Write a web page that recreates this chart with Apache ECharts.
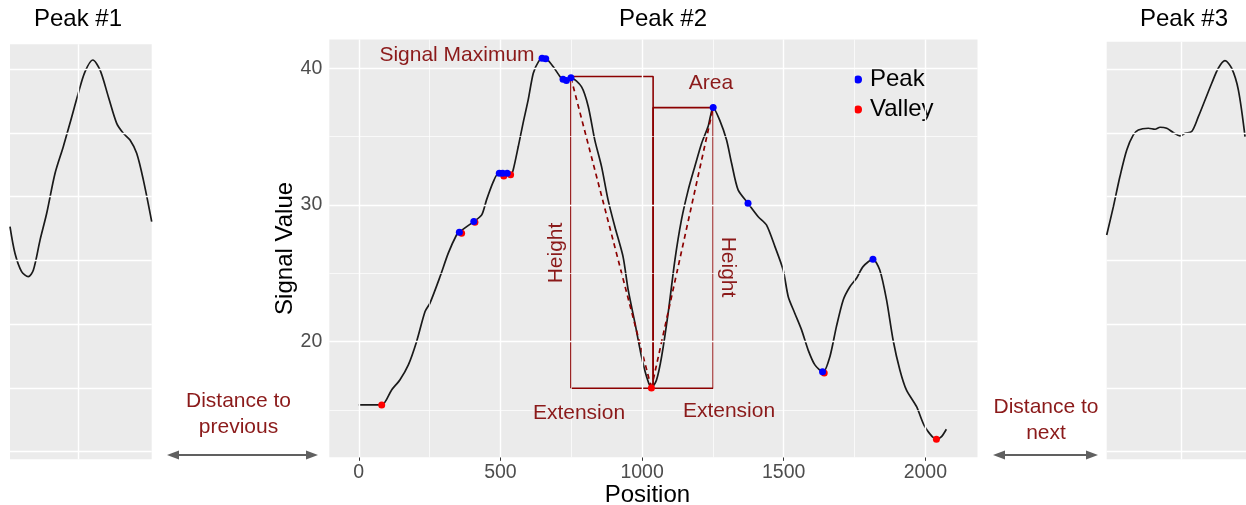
<!DOCTYPE html>
<html><head><meta charset="utf-8">
<script src="https://cdn.jsdelivr.net/npm/echarts@6/dist/echarts.min.js"></script>
<style>html,body{margin:0;padding:0;background:#fff}#c{width:1246px;height:505px}</style>
</head><body><div id="c"></div>
<script>
// ---------- main panel (Peak #2) ----------
const positions = [0,81,116,145,175,204,234,251,287,316,345,355,381,406,434,451,475,492,509,520,536,545,563,580,598,616,635,650,663,686,710,722,732,749,786,810,833,857,880,904,933,951,975,998,1016,1033,1051,1069,1092,1116,1139,1163,1186,1210,1233,1251,1274,1298,1316,1339,1374,1410,1439,1469,1498,1516,1539,1563,1586,1610,1639,1663,1686,1710,1733,1757,1780,1815,1839,1863,1886,1910,1933,1969,1998,2039,2057,2074];
const signal = [15.37,15.37,16.47,17.2,18.3,20.0,22.2,22.8,24.76,26.47,27.8,28.0,28.41,28.78,29.27,30.37,31.7,32.3,32.2,32.3,32.2,32.56,34.27,35.98,37.68,39.63,40.5,40.72,40.68,40.12,39.4,39.15,39.12,39.3,38.65,37.2,34.76,32.8,30.37,28.4,26.2,23.78,21.35,18.9,17.44,16.6,17.2,18.9,22.08,25.98,28.9,31.1,32.8,34.5,35.73,37.12,36.2,34.76,33.05,31.1,30.12,29.14,28.54,26.95,25.24,23.29,22.08,20.86,19.4,18.3,17.76,18.9,21.1,23.05,24.0,24.64,25.49,26.03,25.24,23.05,20.12,17.93,16.47,15.24,13.78,12.86,13.05,13.59];
const peakPos = [355,406,496,508,524,647,660,721,733,749,1251,1374,1637,1815];
const peakVal = [28.0,28.78,32.32,32.32,32.32,40.73,40.7,39.2,39.1,39.3,37.12,30.12,17.8,26.03];
const valleyPos = [81,363,410,512,536,1033,1643,2039];
const valleyVal = [15.37,27.93,28.74,32.12,32.2,16.6,17.7,12.86];
const xTickValues = [0,500,1000,1500,2000];
const xMinorGrid = [250,750,1250,1750];
const yTickValues = [20,30,40];
const yMinorGrid = [15,25,35];
// Height / Extension boxes: [left, right, bottom, top]
const leftBox = [749,1039,16.59,39.39];
const rightBox = [1039,1251,16.59,37.12];
// dashed peak-valley connectors
const leftDashPos = [749,1033], leftDashVal = [39.3,16.6];
const rightDashPos = [1033,1251], rightDashVal = [16.6,37.12];

// ---------- side panels ----------
const peak1Pos = [0,3.5,8.2,12.9,16.5,21.2,25.9,31.8,37.6,42.3,48.2,52.9,58.4,63.5,69.4,75.3,80,84.7,89.4,94.1,100];
const peak1Val = [27.65,25.57,24.13,23.73,24.26,26.6,28.7,31.84,33.93,35.76,38.12,39.8,40.73,39.95,37.85,35.76,34.98,34.45,33.41,31.32,28.05];
const peak3Pos = [0,4.8,9.5,14.4,19.1,22.7,29.9,34.7,38.3,43.1,47.8,52.6,56.2,61,65.8,70.6,75.4,80.1,84.9,89.7,94.5,99.3];
const peak3Val = [27.0,29.22,31.58,33.67,34.85,35.24,35.37,35.29,35.45,35.37,35.03,34.77,34.98,35.11,36.28,37.59,38.9,40.08,40.67,40.08,38.38,34.71];
const sideYGrid = [10,15,20,25,30,35,40];
const peak1XGrid = [48.2];
const peak3XGrid = [53.3];

const FONT = '"Liberation Sans", Arial, sans-serif';
const DARKRED = '#8B1A1A';
const pairs = (xs, ys) => xs.map((x, i) => [x, ys[i]]);
const boxPath = b => [[b[0],b[2]],[b[0],b[3]],[b[1],b[3]],[b[1],b[2]],[b[0],b[2]]];

function gridLines(xMajor, xMinor, yMajor, yMinor) {
  const d = [];
  xMinor.forEach(v => d.push({xAxis: v, lineStyle: {width: 0.7}}));
  yMinor.forEach(v => d.push({yAxis: v, lineStyle: {width: 0.7}}));
  xMajor.forEach(v => d.push({xAxis: v, lineStyle: {width: 1.4}}));
  yMajor.forEach(v => d.push({yAxis: v, lineStyle: {width: 1.4}}));
  return d;
}
function gridSeries(idx, data) {
  return {
    type: 'line', xAxisIndex: idx, yAxisIndex: idx, data: [], z: 1, silent: true,
    markLine: { silent: true, symbol: ['none','none'], label: {show: false}, animation: false,
      lineStyle: {color: '#ffffff', type: 'solid'}, emphasis: {disabled: true}, data: data }
  };
}

const chart = echarts.init(document.getElementById('c'), null, {renderer: 'canvas'});
const hiddenAxis = (min, max) => ({type: 'value', min, max, show: true,
  axisLine: {show: false}, axisTick: {show: false}, axisLabel: {show: false}, splitLine: {show: false}});

const option = {
  animation: false,
  backgroundColor: '#ffffff',
  textStyle: {fontFamily: FONT},
  grid: [
    {left: 329.3, top: 39.5, right: 268.5, bottom: 47.7, show: true, backgroundColor: '#EBEBEB', borderWidth: 0, containLabel: false, outerBoundsMode: 'none'},
    {left: 10, top: 44.3, width: 141.7, height: 415, show: true, backgroundColor: '#EBEBEB', borderWidth: 0, containLabel: false, outerBoundsMode: 'none'},
    {left: 1106.7, top: 41.7, right: 0, height: 417.6, show: true, backgroundColor: '#EBEBEB', borderWidth: 0, containLabel: false, outerBoundsMode: 'none'}
  ],
  xAxis: [
    {type: 'value', gridIndex: 0, min: -104, max: 2184,
      name: 'Position', nameLocation: 'middle', nameGap: 26, nameMoveOverlap: false,
      nameTextStyle: {fontSize: 24, color: '#000', fontFamily: FONT, padding: [0, 12, 0, 0]},
      axisLine: {show: false},
      axisTick: {show: true, length: 3.5, lineStyle: {color: '#333'}, customValues: xTickValues},
      axisLabel: {show: true, fontSize: 19.5, color: '#4D4D4D', margin: 5, fontFamily: FONT, customValues: xTickValues,
        formatter: v => String(v)},
      splitLine: {show: false}},
    Object.assign(hiddenAxis(0, 100), {gridIndex: 1}),
    Object.assign(hiddenAxis(0, 100), {gridIndex: 2})
  ],
  yAxis: [
    {type: 'value', gridIndex: 0, min: 11.54, max: 42.1,
      name: 'Signal Value', nameLocation: 'middle', nameGap: 32, nameRotate: 90, nameMoveOverlap: false,
      nameTextStyle: {fontSize: 24, color: '#000', fontFamily: FONT},
      axisLine: {show: false},
      axisTick: {show: true, length: 3.5, lineStyle: {color: '#333'}, customValues: yTickValues},
      axisLabel: {show: true, fontSize: 19.5, color: '#4D4D4D', margin: 7, fontFamily: FONT, customValues: yTickValues,
        formatter: v => String(v)},
      splitLine: {show: false}},
    Object.assign(hiddenAxis(9.40, 41.96), {gridIndex: 1}),
    Object.assign(hiddenAxis(9.40, 42.16), {gridIndex: 2})
  ],
  legend: {
    data: ['Peak', 'Valley'], orient: 'vertical', left: 849, top: 62.5,
    itemWidth: 8, itemHeight: 8, itemGap: 6, icon: 'circle',
    textStyle: {fontSize: 24, color: '#000', fontFamily: FONT, lineHeight: 23, padding: [0,0,0,3]},
    selectedMode: false
  },
  series: [
    gridSeries(0, gridLines(xTickValues, xMinorGrid, yTickValues, yMinorGrid)),
    gridSeries(1, gridLines(peak1XGrid, [], sideYGrid, [])),
    gridSeries(2, gridLines(peak3XGrid, [], sideYGrid, [])),
    {name: 'signal', type: 'line', xAxisIndex: 0, yAxisIndex: 0, data: pairs(positions, signal),
      smooth: 0.25, showSymbol: false, z: 3, lineStyle: {color: '#1a1a1a', width: 1.7}, silent: true},
    {name: 'leftBox', type: 'line', data: boxPath(leftBox), showSymbol: false, z: 4,
      lineStyle: {color: '#8B0000', width: 1.6}, silent: true},
    {name: 'rightBox', type: 'line', data: boxPath(rightBox), showSymbol: false, z: 4,
      lineStyle: {color: '#8B0000', width: 1.6}, silent: true},
    {name: 'leftDash', type: 'line', data: pairs(leftDashPos, leftDashVal), showSymbol: false, z: 4,
      lineStyle: {color: '#8B0000', width: 1.7, type: [5, 4]}, silent: true},
    {name: 'rightDash', type: 'line', data: pairs(rightDashPos, rightDashVal), showSymbol: false, z: 4,
      lineStyle: {color: '#8B0000', width: 1.7, type: [5, 4]}, silent: true},
    {name: 'Valley', type: 'scatter', data: pairs(valleyPos, valleyVal), symbolSize: 7, z: 5,
      itemStyle: {color: '#FF0000', opacity: 1}},
    {name: 'Peak', type: 'scatter', data: pairs(peakPos, peakVal), symbolSize: 7, z: 6,
      itemStyle: {color: '#0000FF', opacity: 1}},
    {name: 'peak1', type: 'line', xAxisIndex: 1, yAxisIndex: 1, data: pairs(peak1Pos, peak1Val),
      smooth: 0.3, showSymbol: false, z: 3, lineStyle: {color: '#1a1a1a', width: 1.7}, silent: true},
    {name: 'peak3', type: 'line', xAxisIndex: 2, yAxisIndex: 2, data: pairs(peak3Pos, peak3Val),
      smooth: 0.3, showSymbol: false, z: 3, lineStyle: {color: '#1a1a1a', width: 1.7}, silent: true}
  ],
  graphic: []
};

function txt(text, x, y, size, color, rot) {
  return {type: 'text', x: x, y: y, rotation: rot || 0, z: 10, silent: true,
    style: {text: text, fill: color, font: size + 'px ' + FONT, textAlign: 'center', textVerticalAlign: 'middle'}};
}
function arrow(x1, x2, y) {
  const c = '#606060', L = 12, H = 4.5;
  return [
    {type: 'line', z: 10, silent: true, shape: {x1: x1 + 4, y1: y, x2: x2 - 4, y2: y}, style: {stroke: c, lineWidth: 2}},
    {type: 'polygon', z: 10, silent: true, shape: {points: [[x1, y], [x1 + L, y - H], [x1 + L, y + H]]}, style: {fill: c}},
    {type: 'polygon', z: 10, silent: true, shape: {points: [[x2, y], [x2 - L, y - H], [x2 - L, y + H]]}, style: {fill: c}}
  ];
}
option.graphic = [
  txt('Peak #1', 78, 19, 24, '#000'),
  txt('Peak #2', 663, 19, 24, '#000'),
  txt('Peak #3', 1184, 19, 24, '#000'),
  txt('Signal Maximum', 457, 55, 21, DARKRED),
  txt('Area', 711, 83, 21, DARKRED),
  txt('Height', 556, 253, 21, DARKRED, Math.PI / 2),
  txt('Height', 728, 267, 21, DARKRED, -Math.PI / 2),
  txt('Extension', 579, 413, 21, DARKRED),
  txt('Extension', 729, 411, 21, DARKRED),
  txt('Distance to', 238.5, 401, 21, DARKRED),
  txt('previous', 238.5, 427, 21, DARKRED),
  txt('Distance to', 1046, 407, 21, DARKRED),
  txt('next', 1046, 433, 21, DARKRED)
].concat(arrow(167, 318, 455), arrow(993, 1098, 455));

chart.setOption(option);
</script></body></html>
